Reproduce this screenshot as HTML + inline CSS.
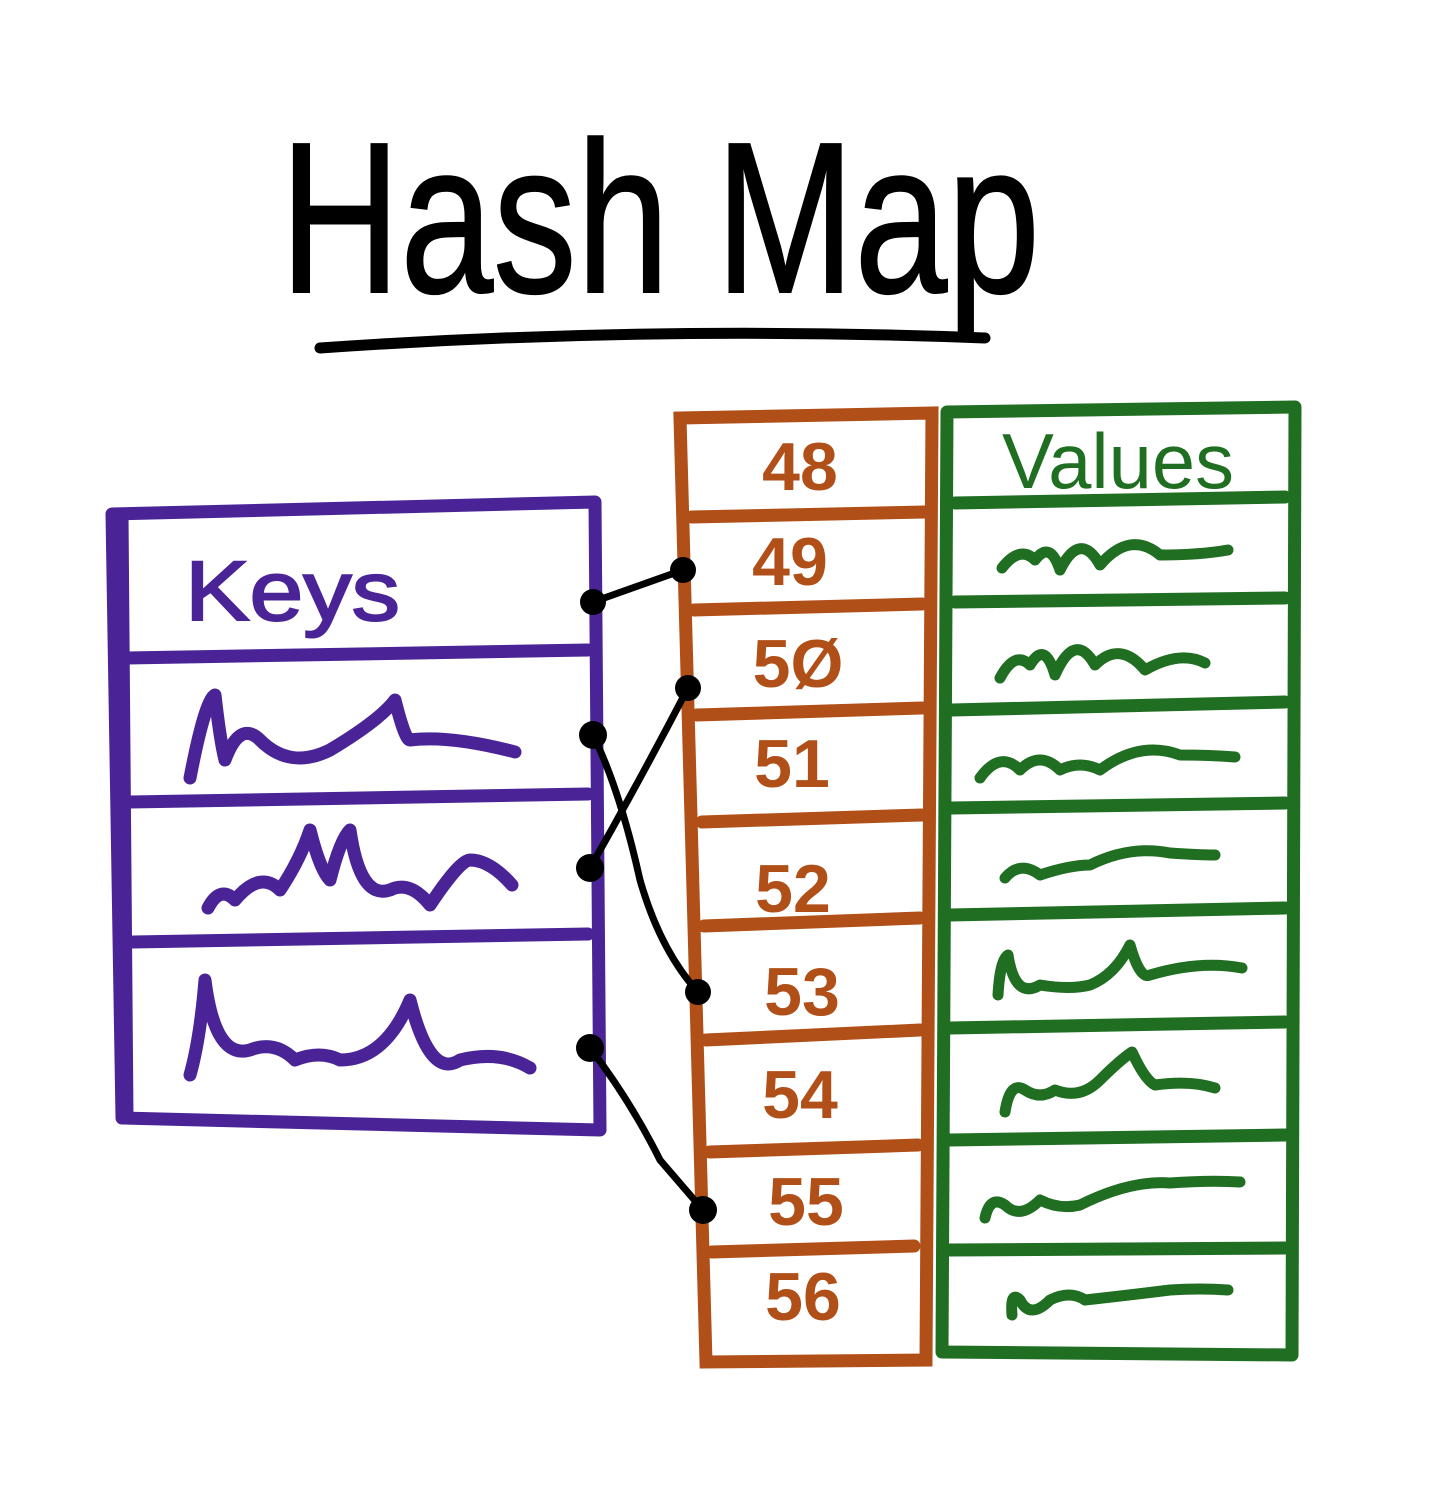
<!DOCTYPE html>
<html><head><meta charset="utf-8"><style>
html,body{margin:0;padding:0;background:#fff;}
svg{display:block}
</style></head><body>
<svg width="1433" height="1511" viewBox="0 0 1433 1511" xmlns="http://www.w3.org/2000/svg">
<rect width="1433" height="1511" fill="#fff"/>
<!-- Title -->
<text x="660" y="292" text-anchor="middle" font-family="Liberation Sans, sans-serif" font-size="215" fill="#000" stroke="#000" stroke-width="2" textLength="760" lengthAdjust="spacingAndGlyphs">Hash Map</text>
<path d="M320 348 Q650 325 985 338" stroke="#000" stroke-width="11" fill="none" stroke-linecap="round"/>

<!-- Keys box -->
<g stroke="#4a2496" stroke-width="13" fill="none" stroke-linecap="round" stroke-linejoin="round">
<path d="M112 514 L595 502 L600 1130 L122 1118 Z"/>
<path d="M122 514 L127 1118"/>
<path d="M127 658 L588 650"/>
<path d="M130 802 L588 794"/>
<path d="M133 942 L588 934"/>
<path stroke-width="13" d="M190 778 Q205 700 215 695 Q220 740 225 760 Q240 720 260 740 Q290 770 330 750 Q380 720 395 700 Q405 740 410 740 Q450 735 515 752"/>
<path stroke-width="13" d="M208 908 Q220 885 235 900 Q260 870 280 890 Q300 860 310 830 Q320 870 330 880 Q340 840 350 830 Q360 900 390 890 Q410 880 430 905 Q460 860 470 860 Q490 860 512 885"/>
<path stroke-width="13" d="M190 1075 Q200 1040 205 980 Q215 1060 250 1050 Q275 1040 295 1060 Q320 1050 340 1060 Q385 1060 410 1000 Q430 1080 460 1060 Q500 1050 530 1068"/>
</g>
<text x="185" y="620" font-family="Liberation Sans, sans-serif" font-size="84" fill="#4a2496" stroke="#4a2496" stroke-width="2" textLength="215" lengthAdjust="spacingAndGlyphs">Keys</text>

<!-- Orange column -->
<g stroke="#b04f17" stroke-width="13" fill="none" stroke-linecap="round">
<path d="M680 418 L932 413 L926 1360 L706 1362 Z"/>
<path d="M692 517 L925 512"/>
<path d="M694 610 L922 604"/>
<path d="M697 715 L922 708"/>
<path d="M702 822 L922 815"/>
<path d="M704 926 L920 918"/>
<path d="M706 1040 L920 1030"/>
<path d="M710 1152 L918 1145"/>
<path d="M712 1252 L914 1246"/>
</g>
<g font-family="Liberation Sans, sans-serif" font-size="68" font-weight="bold" fill="#b04f17" text-anchor="middle">
<text x="800" y="490">48</text>
<text x="790" y="585">49</text>
<text x="798" y="687">5Ø</text>
<text x="792" y="787">51</text>
<text x="793" y="912">52</text>
<text x="802" y="1015">53</text>
<text x="800" y="1118">54</text>
<text x="806" y="1225">55</text>
<text x="803" y="1320">56</text>
</g>

<!-- Green column -->
<g stroke="#1f6e22" stroke-width="13" fill="none" stroke-linecap="round" stroke-linejoin="round">
<path d="M947 412 L1295 407 L1292 1355 L942 1352 Z"/>
<path d="M955 503 L1285 497"/>
<path d="M955 602 L1285 598"/>
<path d="M952 710 L1285 702"/>
<path d="M952 808 L1285 803"/>
<path d="M950 915 L1285 908"/>
<path d="M950 1028 L1285 1022"/>
<path d="M950 1140 L1285 1135"/>
<path d="M950 1250 L1285 1248"/>
<g stroke-width="11">
<path d="M1002 568 Q1020 545 1035 560 Q1050 540 1060 570 Q1080 530 1100 565 Q1130 530 1160 555 Q1200 555 1228 550"/>
<path d="M1000 678 Q1015 650 1030 665 Q1045 640 1055 675 Q1075 630 1095 665 Q1120 640 1145 670 Q1180 650 1205 663"/>
<path d="M980 778 Q1000 750 1020 770 Q1040 750 1060 770 Q1080 760 1100 770 Q1140 740 1180 755 Q1210 755 1235 757"/>
<path d="M1005 878 Q1020 860 1040 875 Q1070 865 1090 865 Q1130 845 1170 853 Q1200 855 1215 855"/>
<path d="M998 995 Q1000 960 1008 955 Q1015 1000 1040 985 Q1070 990 1090 985 Q1115 975 1130 945 Q1140 980 1150 975 Q1200 960 1242 968"/>
<path d="M1005 1112 Q1010 1080 1025 1090 Q1040 1100 1055 1090 Q1080 1100 1100 1080 Q1120 1060 1132 1052 Q1145 1080 1155 1085 Q1190 1080 1215 1088"/>
<path d="M985 1218 Q990 1195 1005 1205 Q1020 1220 1040 1200 Q1060 1210 1080 1205 Q1130 1180 1170 1183 Q1210 1180 1240 1182"/>
<path d="M1012 1315 Q1010 1290 1020 1300 Q1030 1320 1050 1300 Q1070 1290 1085 1300 Q1130 1295 1170 1290 Q1200 1288 1228 1290"/>
</g>
</g>
<text x="1002" y="488" font-family="Liberation Sans, sans-serif" font-size="78" fill="#1f6e22" textLength="232" lengthAdjust="spacingAndGlyphs">Values</text>

<!-- Connectors -->
<g stroke="#000" stroke-width="7" fill="none" stroke-linecap="round">
<path d="M593 602 L683 570"/>
<path d="M593 735 Q620 790 640 880 Q660 950 698 992"/>
<path d="M590 868 Q640 780 688 688"/>
<path d="M590 1048 Q630 1100 660 1160 L703 1210"/>
</g>
<g fill="#000">
<circle cx="593" cy="602" r="13"/>
<circle cx="683" cy="570" r="13"/>
<circle cx="593" cy="735" r="14"/>
<circle cx="688" cy="688" r="13"/>
<circle cx="590" cy="868" r="14"/>
<circle cx="698" cy="992" r="13"/>
<circle cx="590" cy="1048" r="14"/>
<circle cx="703" cy="1210" r="14"/>
</g>
</svg>
</body></html>
